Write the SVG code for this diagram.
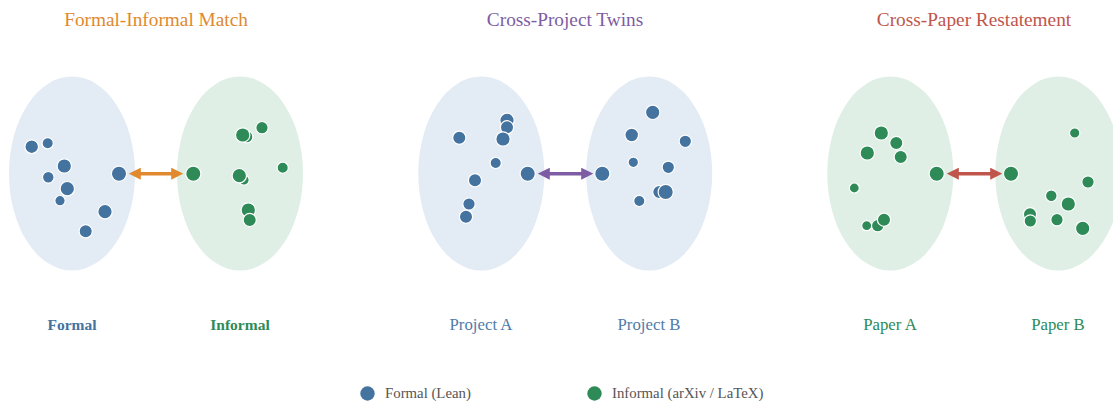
<svg xmlns="http://www.w3.org/2000/svg" width="1113" height="401" viewBox="0 0 1113 401">
<style>
.bg{fill:#ffffff}
.eb{fill:#e3ebf4}
.eg{fill:#dfefe6}
.pf{fill:#43739e;stroke:#ffffff;stroke-width:1.2}
.pi{fill:#2e8b57;stroke:#ffffff;stroke-width:1.2}
.title{font-size:19.3px;text-anchor:middle}
.lab{font-size:16.8px;text-anchor:middle}
.labb{font-size:15.5px;text-anchor:middle;font-weight:bold}
.leg{font-size:14.8px;fill:#555555}
.arr{stroke-width:3.4;fill:none}
</style>
<defs>
<marker id="mo" viewBox="0 0 10 10" refX="4" refY="5" markerWidth="12" markerHeight="12" markerUnits="userSpaceOnUse" orient="auto-start-reverse"><path d="M0,0 L10,5 L0,10 z" fill="#e0892e"/></marker>
<marker id="mp" viewBox="0 0 10 10" refX="4" refY="5" markerWidth="12" markerHeight="12" markerUnits="userSpaceOnUse" orient="auto-start-reverse"><path d="M0,0 L10,5 L0,10 z" fill="#7d5ca3"/></marker>
<marker id="mr" viewBox="0 0 10 10" refX="4" refY="5" markerWidth="12" markerHeight="12" markerUnits="userSpaceOnUse" orient="auto-start-reverse"><path d="M0,0 L10,5 L0,10 z" fill="#c0554b"/></marker>
</defs>
<rect class="bg" x="0" y="0" width="1113" height="401"/>

<g font-family="'Liberation Serif', 'Times New Roman', 'DejaVu Serif', serif">
<text class="title" x="156" y="26" fill="#e0892e">Formal-Informal Match</text>
<text class="title" x="565" y="26" fill="#7d5ca3">Cross-Project Twins</text>
<text class="title" x="974" y="26" fill="#c0554b">Cross-Paper Restatement</text>
</g>

<g id="formal">
<ellipse class="eb" cx="72" cy="173.5" rx="63" ry="97"/>
<circle class="pf" cx="31.7" cy="146.7" r="6.8"/>
<circle class="pf" cx="47.7" cy="143.3" r="5.6"/>
<circle class="pf" cx="64.3" cy="166" r="7.2"/>
<circle class="pf" cx="48.3" cy="177.3" r="5.8"/>
<circle class="pf" cx="67.3" cy="188.7" r="7.2"/>
<circle class="pf" cx="60" cy="200.7" r="5.2"/>
<circle class="pf" cx="105" cy="211.7" r="7.2"/>
<circle class="pf" cx="85.7" cy="231.3" r="6.6"/>
<circle class="pf" cx="119" cy="173.7" r="7.6"/>
</g>
<g id="informal">
<ellipse class="eg" cx="240" cy="173.5" rx="63" ry="97"/>
<circle class="pi" cx="246.7" cy="136.7" r="6.2"/>
<circle class="pi" cx="242.7" cy="135" r="7.2"/>
<circle class="pi" cx="262" cy="127.7" r="6.2"/>
<circle class="pi" cx="282.7" cy="167.7" r="5.6"/>
<circle class="pi" cx="244" cy="180" r="5.2"/>
<circle class="pi" cx="239.3" cy="175.7" r="7.2"/>
<circle class="pi" cx="248.3" cy="210" r="7.2"/>
<circle class="pi" cx="249.7" cy="220" r="6.6"/>
<circle class="pi" cx="193.3" cy="173.7" r="7.6"/>
</g>

<g id="projectA">
<ellipse class="eb" cx="481.3" cy="173.5" rx="63" ry="97"/>
<circle class="pf" cx="459.3" cy="137.7" r="6.6"/>
<circle class="pf" cx="507" cy="120.3" r="7.2"/>
<circle class="pf" cx="507" cy="127.3" r="6.6"/>
<circle class="pf" cx="503" cy="139" r="7.2"/>
<circle class="pf" cx="495.7" cy="163" r="5.6"/>
<circle class="pf" cx="475" cy="180.3" r="6.6"/>
<circle class="pf" cx="469" cy="204" r="6.2"/>
<circle class="pf" cx="466" cy="216.7" r="6.6"/>
<circle class="pf" cx="527.7" cy="173.7" r="7.6"/>
</g>
<g id="projectB">
<ellipse class="eb" cx="649.2" cy="173.5" rx="63" ry="97"/>
<circle class="pf" cx="652.7" cy="112.3" r="7.2"/>
<circle class="pf" cx="631.7" cy="135" r="6.8"/>
<circle class="pf" cx="685.3" cy="141.3" r="6.2"/>
<circle class="pf" cx="633.3" cy="162.3" r="5.2"/>
<circle class="pf" cx="668.3" cy="167.3" r="6.2"/>
<circle class="pf" cx="659.3" cy="192" r="6.6"/>
<circle class="pf" cx="665.7" cy="192" r="7.6"/>
<circle class="pf" cx="639.3" cy="201" r="5.6"/>
<circle class="pf" cx="602.3" cy="173.7" r="7.6"/>
</g>

<g id="paperA">
<ellipse class="eg" cx="890.3" cy="173.5" rx="63" ry="97"/>
<circle class="pi" cx="881.3" cy="133" r="7.2"/>
<circle class="pi" cx="896.3" cy="143" r="6.6"/>
<circle class="pi" cx="867.3" cy="153" r="7.2"/>
<circle class="pi" cx="900.7" cy="157" r="6.6"/>
<circle class="pi" cx="854.3" cy="188" r="5"/>
<circle class="pi" cx="866.7" cy="225.7" r="5"/>
<circle class="pi" cx="877.7" cy="225.7" r="6.2"/>
<circle class="pi" cx="884" cy="219.7" r="6.6"/>
<circle class="pi" cx="936.7" cy="173.7" r="7.6"/>
</g>
<g id="paperB">
<ellipse class="eg" cx="1058.3" cy="173.5" rx="63" ry="97"/>
<circle class="pi" cx="1074.7" cy="133" r="5.2"/>
<circle class="pi" cx="1088" cy="182" r="6.2"/>
<circle class="pi" cx="1051.3" cy="195.7" r="5.8"/>
<circle class="pi" cx="1068.3" cy="204" r="7.2"/>
<circle class="pi" cx="1030" cy="214.3" r="6.6"/>
<circle class="pi" cx="1030.3" cy="221" r="6.2"/>
<circle class="pi" cx="1057" cy="219.7" r="6.2"/>
<circle class="pi" cx="1082.7" cy="228.3" r="7.2"/>
<circle class="pi" cx="1011" cy="173.7" r="7.6"/>
</g>

<g id="connectors">
<line class="arr" x1="136" y1="173.7" x2="176" y2="173.7" stroke="#e0892e" marker-start="url(#mo)" marker-end="url(#mo)"/>
<line class="arr" x1="545" y1="173.7" x2="586" y2="173.7" stroke="#7d5ca3" marker-start="url(#mp)" marker-end="url(#mp)"/>
<line class="arr" x1="954" y1="173.7" x2="995" y2="173.7" stroke="#c0554b" marker-start="url(#mr)" marker-end="url(#mr)"/>
</g>

<g font-family="'Liberation Serif', 'Times New Roman', 'DejaVu Serif', serif">
<text class="labb" x="72" y="330" fill="#43739e">Formal</text>
<text class="labb" x="240" y="330" fill="#2e8b57">Informal</text>
<text class="lab" x="481" y="330" fill="#4f7cab">Project A</text>
<text class="lab" x="649" y="330" fill="#4f7cab">Project B</text>
<text class="lab" x="890" y="330" fill="#2e8b57">Paper A</text>
<text class="lab" x="1058" y="330" fill="#2e8b57">Paper B</text>
</g>

<g id="legend" font-family="'Liberation Serif', 'Times New Roman', 'DejaVu Serif', serif">
<circle cx="367.5" cy="393.5" r="7.2" fill="#43739e"/>
<text class="leg" x="385" y="398">Formal (Lean)</text>
<circle cx="594.5" cy="393.5" r="7.2" fill="#2e8b57"/>
<text class="leg" x="612" y="398">Informal (arXiv / LaTeX)</text>
</g>
</svg>
